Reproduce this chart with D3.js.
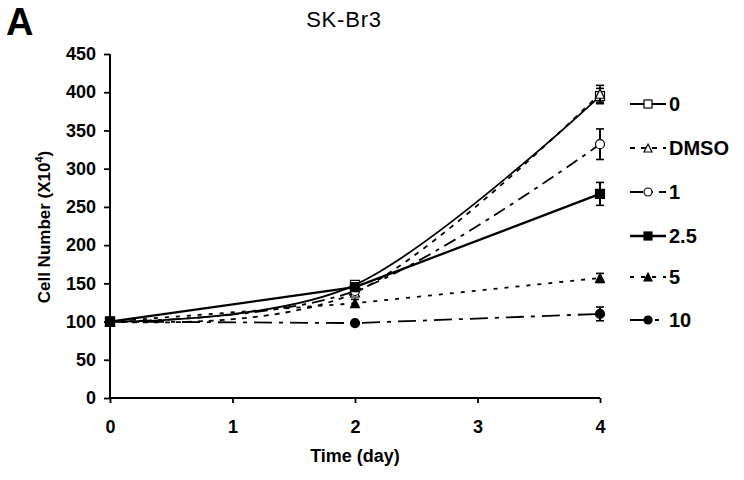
<!DOCTYPE html>
<html><head><meta charset="utf-8">
<script src="https://cdn.jsdelivr.net/npm/d3@7"></script>
<style>
body{margin:0;background:#fff;}
text{font-family:"Liberation Sans",Arial,sans-serif;}
</style></head>
<body><svg id="c" width="744" height="480"></svg>
<script>
const days = [0, 2, 4];
const seriesNames = ["0", "DMSO", "1", "2.5", "5", "10"];
const values0 = [100, 148, 395];
const valuesDMSO = [100, 138, 398];
const values1 = [100, 140, 332];
const values25 = [100, 145, 267];
const values5 = [100, 124, 157];
const values10 = [100, 98, 110];
const err0 = [2, 4, 10];
const errDMSO = [2, 5, 11];
const err1 = [2, 4, 20];
const err25 = [2, 4, 15];
const err5 = [2, 5, 6];
const err10 = [2, 3, 9];
const yTicks = [0, 50, 100, 150, 200, 250, 300, 350, 400, 450];
const xTicks = [0, 1, 2, 3, 4];

const allValues = [values0, valuesDMSO, values1, values25, values5, values10];
const allErr = [err0, errDMSO, err1, err25, err5, err10];

// styles (separate from data)
const styles = [
  {dash: null, width: 1.8, marker: "square", fill: "#fff", smooth: true},
  {dash: "5,6", width: 1.8, marker: "triangle", fill: "#fff", smooth: true},
  {dash: "13,6,4,6", width: 1.8, marker: "circle", fill: "#fff", smooth: true},
  {dash: null, width: 2.3, marker: "square", fill: "#000", smooth: false},
  {dash: "4,7", width: 1.8, marker: "triangle", fill: "#000", smooth: false},
  {dash: "18,7,4,7", width: 1.8, marker: "circle", fill: "#000", smooth: false}
];

const svg = d3.select("#c");
const x = d3.scaleLinear().domain([0, 4]).range([110, 600]);
const y = d3.scaleLinear().domain([0, 450]).range([398, 54]);

// Panel letter and title
svg.append("text").attr("x", 6).attr("y", 35).attr("font-size", 38).attr("font-weight", "bold").text("A");
svg.append("text").attr("x", 344).attr("y", 27).attr("text-anchor", "middle").attr("font-size", 22)
  .attr("letter-spacing", 0.8).text("SK-Br3");

// Axes
const gy = svg.append("g").attr("transform", "translate(110,0)")
  .call(d3.axisLeft(y).tickValues(yTicks).tickSize(6).tickPadding(8).tickFormat(d3.format("d")));
const gx = svg.append("g").attr("transform", "translate(0,398)")
  .call(d3.axisBottom(x).tickValues(xTicks).tickSize(5).tickPadding(17).tickFormat(d3.format("d")));
[gy, gx].forEach(g => {
  g.select(".domain").attr("stroke", "#000").attr("stroke-width", 2);
  g.selectAll(".tick line").attr("stroke", "#000").attr("stroke-width", 1.8);
  g.selectAll(".tick text").attr("font-size", 18).attr("font-weight", "bold")
    .attr("font-family", "'Liberation Sans',Arial,sans-serif").attr("fill", "#000");
});
gy.select(".domain").attr("d", "M0,54V398");
gx.select(".domain").attr("d", "M110,0H600");

// Axis labels
svg.append("text").attr("transform", "translate(50,227) rotate(-90)").attr("text-anchor", "middle")
  .attr("font-size", 17).attr("font-weight", "bold")
  .html('Cell Number (X10<tspan dy="-7" font-size="11">4</tspan><tspan dy="7">)</tspan>');
svg.append("text").attr("x", 355).attr("y", 462).attr("text-anchor", "middle")
  .attr("font-size", 18).attr("font-weight", "bold").text("Time (day)");

function drawMarker(g, type, cx, cy, fill, s) {
  if (type === "square") {
    g.append("rect").attr("x", cx - s / 2).attr("y", cy - s / 2).attr("width", s).attr("height", s)
      .attr("fill", fill).attr("stroke", "#000").attr("stroke-width", 1.2);
  } else if (type === "circle") {
    g.append("circle").attr("cx", cx).attr("cy", cy).attr("r", s / 2)
      .attr("fill", fill).attr("stroke", "#000").attr("stroke-width", 1.2);
  } else {
    const h = s;
    g.append("path").attr("d", `M${cx},${cy - h / 2}L${cx + h / 2},${cy + h / 2}L${cx - h / 2},${cy + h / 2}Z`)
      .attr("fill", fill).attr("stroke", "#000").attr("stroke-width", 1.2);
  }
}

const plot = svg.append("g");
// draw lines
allValues.forEach((vals, i) => {
  const st = styles[i];
  const pts = days.map((d, j) => [d, vals[j]]);
  const line = d3.line().x(d => x(d[0])).y(d => y(d[1]))
    .curve(st.smooth ? d3.curveCardinal.tension(0) : d3.curveLinear);
  plot.append("path").attr("d", line(pts)).attr("fill", "none").attr("stroke", "#000")
    .attr("stroke-width", st.width).attr("stroke-dasharray", st.dash);
});
// error bars and markers
allValues.forEach((vals, i) => {
  const st = styles[i];
  days.forEach((d, j) => {
    const e = allErr[i][j];
    const cx = x(d), y1 = y(vals[j] + e), y2 = y(vals[j] - e);
    plot.append("line").attr("x1", cx).attr("x2", cx).attr("y1", y1).attr("y2", y2)
      .attr("stroke", "#000").attr("stroke-width", 2);
    plot.append("line").attr("x1", cx - 4).attr("x2", cx + 4).attr("y1", y1).attr("y2", y1)
      .attr("stroke", "#000").attr("stroke-width", 1.6);
    plot.append("line").attr("x1", cx - 4).attr("x2", cx + 4).attr("y1", y2).attr("y2", y2)
      .attr("stroke", "#000").attr("stroke-width", 1.6);
    drawMarker(plot, st.marker, cx, y(vals[j]), st.fill, 9);
  });
});

// Legend
const legendY = [104, 148, 192, 236, 277, 320];
const leg = svg.append("g");
seriesNames.forEach((name, i) => {
  const st = styles[i];
  const ly = legendY[i];
  leg.append("line").attr("x1", 630).attr("x2", 666).attr("y1", ly).attr("y2", ly)
    .attr("stroke", "#000").attr("stroke-width", st.width).attr("stroke-dasharray", st.dash);
  drawMarker(leg, st.marker, 648, ly, st.fill, 8);
  leg.append("text").attr("x", 669).attr("y", ly + 7).attr("font-size", 20).attr("font-weight", "bold").text(name);
});
</script></body></html>
